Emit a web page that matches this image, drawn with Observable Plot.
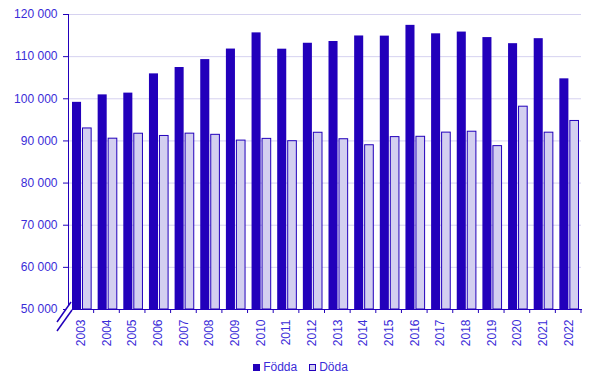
<!DOCTYPE html>
<html>
<head>
<meta charset="utf-8">
<script src="https://cdn.jsdelivr.net/npm/d3@7"></script>
<script src="https://cdn.jsdelivr.net/npm/@observablehq/plot@0.6"></script>
<style>
  html, body { margin: 0; padding: 0; background: #fff; }
  #chart { width: 595px; }
  .legend { display: flex; justify-content: center; align-items: center; margin-top: 7px; padding-left: 6px;
    font-family: "Liberation Sans", Arial, sans-serif; font-size: 12px; line-height: 16px; color: #3a2cd8; }
  .legend .item { display: flex; align-items: center; margin: 0 6px; }
  .legend .sw { width: 7px; height: 7px; margin-right: 3px; box-sizing: border-box; }
</style>
</head>
<body>
<div id="chart"></div>
<script>
const years = ["2003","2004","2005","2006","2007","2008","2009","2010","2011","2012","2013","2014","2015","2016","2017","2018","2019","2020","2021","2022"];
const fodda = [99157,100928,101346,105913,107421,109301,111801,115641,111770,113177,113593,114907,114870,117425,115416,115832,114523,113077,114263,104734];
const doda  = [92961,90532,91710,91177,91729,91449,90080,90487,89938,91938,90402,88976,90907,90982,91972,92185,88766,98124,91958,94737];
const yTicks = [50000,60000,70000,80000,90000,100000,110000,120000];
const seriesNames = ["Födda","Döda"];

const dark = "#2200bb";
const light = "#d3cff0";
const textColor = "#3a2cd8";
const gridColor = "#d6d2f0";

const data = years.map((year, i) => ({year, fodda: fodda[i], doda: doda[i]}));
const fmt = d => d3.format(",")(d).replace(/,/g, " ");

const plot = Plot.plot({
  width: 595,
  height: 352,
  marginLeft: 68,
  marginRight: 14,
  marginTop: 14,
  marginBottom: 43,
  style: {fontFamily: "'Liberation Sans', Arial, sans-serif", fontSize: "12px", color: textColor, background: "white", overflow: "visible"},
  x: {type: "band", domain: years, padding: 0, round: false},
  y: {domain: [50000, 120000]},
  marks: [
    Plot.gridY(yTicks.slice(1), {stroke: gridColor, strokeOpacity: 1}),
    Plot.barY(data, {x: "year", y1: () => 50000, y2: "fodda", fill: dark, insetLeft: 4, insetRight: 12.6}),
    Plot.barY(data, {x: "year", y1: () => 50000, y2: "doda", fill: light, stroke: dark, strokeWidth: 1, insetLeft: 14.5, insetRight: 2.5}),
    Plot.axisY(yTicks, {tickSize: 5, tickPadding: 6, tickFormat: fmt, label: null, stroke: dark, fill: textColor}),
    Plot.axisX({tickSize: 0, tickRotate: -90, tickPadding: 10, label: null, fill: textColor}),
    Plot.frame({anchor: "left", stroke: dark}),
    Plot.frame({anchor: "bottom", stroke: dark})
  ]
});

document.getElementById("chart").appendChild(plot);

// tick marks at band boundaries and axis break, positioned through the plot's scales
const xs = plot.scale("x");
const ys = plot.scale("y");
const svg = d3.select(plot);
const y0 = ys.apply(50000);
const bounds = years.map(y => xs.apply(y)).concat([xs.apply(years[years.length - 1]) + xs.bandwidth]);
const g = svg.append("g").attr("stroke", dark).attr("stroke-width", 1);
bounds.forEach(bx => {
  g.append("line").attr("x1", bx).attr("x2", bx).attr("y1", y0).attr("y2", y0 + 4);
});
const x0 = xs.apply(years[0]);
const brk = svg.append("g");
brk.append("polygon")
  .attr("points", [[x0 - 11, y0 + 13], [x0 + 3, y0 - 7], [x0 + 4, y0 + 2], [x0 - 11, y0 + 22]].map(p => p.join(",")).join(" "))
  .attr("fill", "white");
brk.append("line").attr("x1", x0 - 11).attr("y1", y0 + 13).attr("x2", x0 + 3).attr("y2", y0 - 7).attr("stroke", dark).attr("stroke-width", 1.5);
brk.append("line").attr("x1", x0 - 11).attr("y1", y0 + 22).attr("x2", x0 + 4).attr("y2", y0 + 1).attr("stroke", dark).attr("stroke-width", 1.5);

// legend below
const legend = d3.select("body").append("div").attr("class", "legend");
const it1 = legend.append("div").attr("class", "item");
it1.append("div").attr("class", "sw").style("background", dark);
it1.append("span").text(seriesNames[0]);
const it2 = legend.append("div").attr("class", "item");
it2.append("div").attr("class", "sw").style("background", light).style("border", "1px solid " + dark);
it2.append("span").text(seriesNames[1]);
</script>
</body>
</html>
